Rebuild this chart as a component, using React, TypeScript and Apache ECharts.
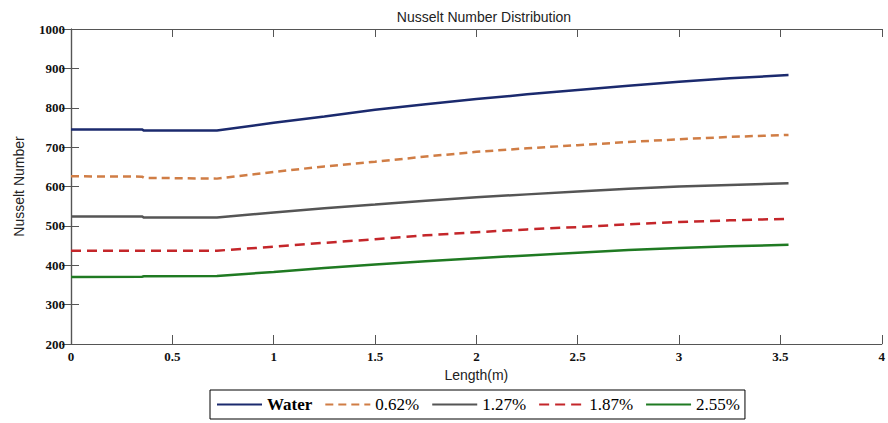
import React, { useEffect, useRef } from "react";
import * as echarts from "echarts";

const xs = [0, 0.35, 0.36, 0.72, 1, 1.25, 1.5, 1.75, 2, 2.25, 2.5, 2.75, 3, 3.25, 3.54];
const water = [745, 745, 742, 742, 762, 778, 795, 809, 822, 834, 845, 856, 866, 875, 883];
const p062 = [626, 625, 622, 620, 637, 651, 663, 676, 688, 697, 705, 713, 720, 726, 731];
const p127 = [524, 524, 521, 521, 534, 545, 554, 564, 573, 580, 587, 594, 600, 604, 608];
const p187 = [437, 437, 437, 437, 447, 457, 466, 476, 484, 491, 497, 504, 510, 514, 518];
const p255 = [370, 371, 372, 373, 383, 393, 402, 410, 418, 425, 432, 439, 444, 448, 452];
const seriesNames = ["Water", "0.62%", "1.27%", "1.87%", "2.55%"];

const SERIF = "'Liberation Serif', 'Times New Roman', serif";
const SANS = "'Liberation Sans', Arial, sans-serif";

export default function App() {
  const ref = useRef<HTMLDivElement>(null);
  useEffect(() => {
    if (!ref.current) return;
    const chart = echarts.init(ref.current, undefined, { renderer: "svg" });
    const pair = (arr: number[]) => xs.map((x, i) => [x, arr[i]]);
    const styles = [
      { color: "#1b2a6e", type: "solid" },
      { color: "#d07d45", type: [8, 5] },
      { color: "#555555", type: "solid" },
      { color: "#c4262a", type: [10, 6] },
      { color: "#1f7a22", type: "solid" },
    ];
    const datas = [water, p062, p127, p187, p255];
    const axisLine = { show: true, lineStyle: { color: "#555", width: 1.2 } };
    chart.setOption({
      animation: false,
      backgroundColor: "#fff",
      title: {
        text: "Nusselt Number Distribution",
        left: 479,
        textAlign: "center",
        top: 5,
        textStyle: { fontFamily: SANS, fontSize: 14, fontWeight: "normal", color: "#222" },
      },
      grid: { left: 71, top: 29, right: 1, bottom: 79, containLabel: false },
      legend: {
        data: seriesNames,
        left: 210,
        top: 390,
        itemWidth: 45,
        itemHeight: 14,
        itemGap: 12,
        padding: [6, 5, 6, 6],
        borderColor: "#000",
        borderWidth: 1,
        borderRadius: 0,
        itemStyle: { opacity: 0 },
        textStyle: {
          fontFamily: SERIF,
          fontSize: 17,
          color: "#000",
          rich: { b: { fontFamily: SERIF, fontSize: 17, fontWeight: "bold", color: "#000" } },
        },
        formatter: (n: string) => (n === "Water" ? "{b|Water}" : n),
      },
      xAxis: [
        {
          type: "value",
          min: 0,
          max: 4,
          interval: 0.5,
          name: "Length(m)",
          nameLocation: "middle",
          nameGap: 24,
          nameTextStyle: { fontFamily: SANS, fontSize: 14, color: "#222" },
          axisLine,
          axisTick: { show: true, inside: true, length: 9, lineStyle: { color: "#555" } },
          axisLabel: { fontFamily: SERIF, fontSize: 13, fontWeight: "bold", color: "#111", margin: 6 },
          splitLine: { show: false },
        },
        {
          type: "value",
          position: "top",
          min: 0,
          max: 4,
          interval: 0.5,
          axisLine,
          axisTick: { show: true, inside: true, length: 8, lineStyle: { color: "#555" } },
          axisLabel: { show: false },
          splitLine: { show: false },
        },
      ],
      yAxis: [
        {
          type: "value",
          min: 200,
          max: 1000,
          interval: 100,
          name: "Nusselt Number",
          nameLocation: "middle",
          nameGap: 45,
          nameTextStyle: { fontFamily: SANS, fontSize: 14, color: "#222" },
          axisLine,
          axisTick: { show: true, inside: true, length: 8, lineStyle: { color: "#555" } },
          axisLabel: {
            fontFamily: SERIF,
            fontSize: 13,
            fontWeight: "bold",
            color: "#111",
            margin: 6,
            formatter: (v: number) => String(v),
          },
          splitLine: { show: false },
        },
        {
          type: "value",
          position: "right",
          min: 200,
          max: 1000,
          interval: 100,
          axisLine,
          axisTick: { show: true, inside: true, length: 9, lineStyle: { color: "#555" } },
          axisLabel: { show: false },
          splitLine: { show: false },
        },
      ],
      series: seriesNames.map((name, i) => ({
        name,
        type: "line",
        xAxisIndex: 0,
        yAxisIndex: 0,
        data: pair(datas[i]),
        showSymbol: false,
        symbol: "none",
        color: styles[i].color,
        lineStyle: { color: styles[i].color, width: 2.5, type: styles[i].type },
      })),
    });
    return () => chart.dispose();
  }, []);
  return (
    <div
      ref={ref}
      style={{ position: "fixed", left: 0, top: 0, width: 888, height: 423 }}
    />
  );
}
